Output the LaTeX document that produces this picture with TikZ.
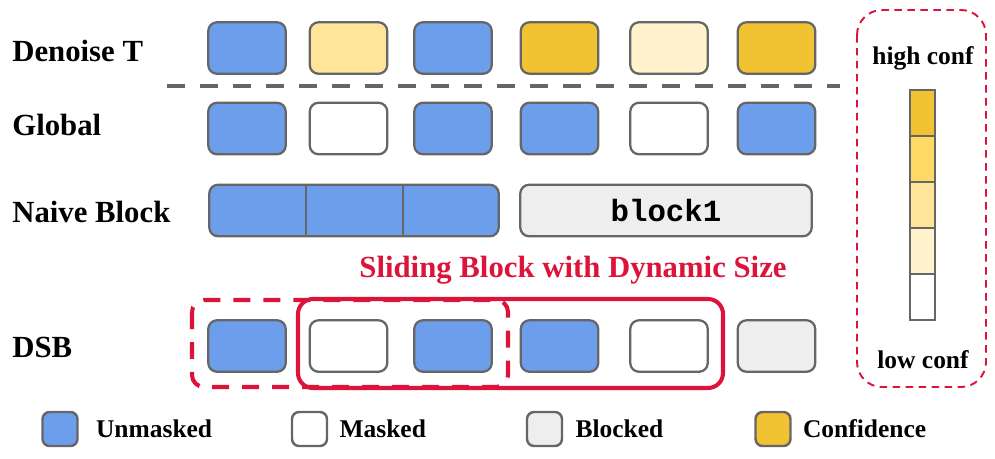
\documentclass[tikz,border=0pt]{standalone}
\usepackage{fontspec}
\setmainfont{Liberation Serif}
\setmonofont{Liberation Mono}
\usetikzlibrary{positioning}

\definecolor{tokblue}{HTML}{6D9EEB}
\definecolor{tokgold}{HTML}{F1C232}
\definecolor{tokmid}{HTML}{FFD966}
\definecolor{toklight}{HTML}{FFE599}
\definecolor{tokpale}{HTML}{FFF2CC}
\definecolor{tokgray}{HTML}{EEEEEE}
\definecolor{edgegray}{HTML}{666666}
\definecolor{slidered}{HTML}{DC143C}

\begin{document}
\begin{tikzpicture}[x=0.02cm, y=-0.02cm]
    % Styles
    \tikzset{
        token/.style={draw=edgegray, line width=1.3pt, rounded corners=5pt,
            minimum width=1.55cm, minimum height=1.03cm, inner sep=0pt},
        legendbox/.style={draw=edgegray, line width=1.4pt, rounded corners=4pt,
            minimum width=0.7cm, minimum height=0.68cm, inner sep=0pt},
        rowlabel/.style={anchor=base west, inner sep=0pt, font=\bfseries\fontsize{17.5}{20}\selectfont},
        legendtext/.style={anchor=west, inner sep=0pt, font=\bfseries\fontsize{14.5}{17}\selectfont},
        conftext/.style={anchor=base, inner sep=0pt, font=\bfseries\fontsize{14.5}{17}\selectfont},
        cell/.style={draw=edgegray, line width=1.1pt},
        divider/.style={dashed, line width=2.3pt, draw=edgegray, dash pattern=on 0.36cm off 0.3cm}
    }

    \useasboundingbox (0,0) rectangle (995,458);

    % Row labels
    \node[rowlabel] (ldenoise) at (12,61) {Denoise T};
    \node[rowlabel] (lglobal) at (12,135) {Global};
    \node[rowlabel] (lnaive) at (12,222) {Naive Block};
    \node[rowlabel] (ldsb) at (12,357) {DSB};

    % Denoise T row
    \foreach \x/\c [count=\i] in {247/tokblue, 348.5/toklight, 453/tokblue, 559.5/tokgold, 669/tokpale, 776.5/tokgold}
        \node[token, fill=\c] (d\i) at (\x,48) {};

    % Separator
    \draw[divider] (167,86) -- (840,86);

    % Global row
    \foreach \x/\c [count=\i] in {247/tokblue, 348.5/white, 453/tokblue, 559.5/tokblue, 669/white, 776.5/tokblue}
        \node[token, fill=\c] (g\i) at (\x,128.5) {};

    % Naive block row
    \node[token, fill=tokblue, minimum width=5.79cm] (naive) at (354,210.5) {};
    \foreach \x in {306,403}
        \draw[draw=edgegray, line width=1.3pt] (\x,184) -- (\x,237);
    \node[token, fill=tokgray, minimum width=5.83cm, font=\ttfamily\bfseries\fontsize{17.5}{20}\selectfont] (block1) at (666,210.5) {block1};

    % Sliding block title
    \node[anchor=base, inner sep=0pt, text=slidered, font=\bfseries\fontsize{17.5}{20}\selectfont] (slidetitle) at (573,277) {Sliding Block with Dynamic Size};

    % DSB row
    \foreach \x/\c [count=\i] in {247/tokblue, 348.5/white, 453/tokblue, 559.5/tokblue, 669/white, 776.5/tokgray}
        \node[token, fill=\c] (s\i) at (\x,346) {};

    % Previous window (dashed) and current window (solid)
    \draw[slidered, line width=2.3pt, rounded corners=0.24cm, dash pattern=on 0.34cm off 0.26cm] (192,300) rectangle (508,387);
    \draw[slidered, line width=2.3pt, rounded corners=0.3cm] (298,299) rectangle (723,388);

    % Confidence scale
    \draw[slidered, line width=1.1pt, dashed, dash pattern=on 0.15cm off 0.11cm, rounded corners=0.5cm] (857,10) rectangle (986,387);
    \node[conftext] (highconf) at (923,64) {high conf};
    \node[conftext] (lowconf) at (923,368) {low conf};
    \foreach \c [count=\i from 0] in {tokgold, tokmid, toklight, tokpale, white}
        \draw[cell, fill=\c] (910,90+46*\i) rectangle (935,136+46*\i);

    % Legend
    \node[legendbox, fill=tokblue] (kunmask) at (60,429) {};
    \node[legendtext, right=0.34cm of kunmask] (tunmask) {Unmasked};
    \node[legendbox, fill=white] (kmask) at (309.5,429) {};
    \node[legendtext, right=0.22cm of kmask] (tmask) {Masked};
    \node[legendbox, fill=tokgray] (kblock) at (544.5,429) {};
    \node[legendtext, right=0.24cm of kblock] (tblock) {Blocked};
    \node[legendbox, fill=tokgold] (kconf) at (773,429) {};
    \node[legendtext, right=0.22cm of kconf] (tconf) {Confidence};

\end{tikzpicture}
\end{document}
